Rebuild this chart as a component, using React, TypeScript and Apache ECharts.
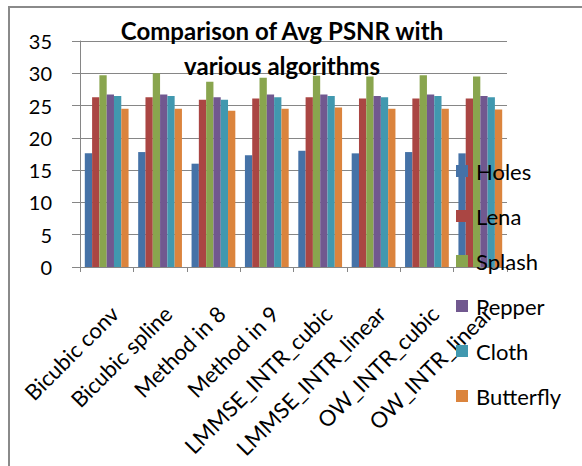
import React, { useEffect, useRef } from "react";
import * as echarts from "echarts";

const categories = [
  "Bicubic conv",
  "Bicubic spline",
  "Method in 8",
  "Method in 9",
  "LMMSE_INTR_cubic",
  "LMMSE_INTR_linear",
  "OW_INTR_cubic",
  "OW_INTR_linear",
];
const holes = [17.6, 17.8, 16.0, 17.3, 18.0, 17.6, 17.8, 17.6];
const lena = [26.3, 26.3, 25.9, 26.1, 26.3, 26.1, 26.1, 26.1];
const splash = [29.7, 30.0, 28.7, 29.3, 29.6, 29.5, 29.7, 29.5];
const pepper = [26.7, 26.7, 26.3, 26.7, 26.7, 26.5, 26.7, 26.5];
const cloth = [26.5, 26.5, 25.9, 26.3, 26.5, 26.3, 26.5, 26.3];
const butterfly = [24.5, 24.5, 24.2, 24.5, 24.7, 24.5, 24.5, 24.4];

const seriesNames = ["Holes", "Lena", "Splash", "Pepper", "Cloth", "Butterfly"];
const seriesData = [holes, lena, splash, pepper, cloth, butterfly];
const colors = ["#4572A7", "#AA4643", "#89A54E", "#71588F", "#4198AF", "#DB843D"];

const FONT = "Lato, 'Open Sans', sans-serif";

export default function App() {
  const ref = useRef<HTMLDivElement>(null);
  useEffect(() => {
    if (!ref.current) return;
    const chart = echarts.init(ref.current, undefined, { renderer: "svg" });
    chart.setOption({
      animation: false,
      backgroundColor: "#ffffff",
      color: colors,
      title: {
        text: "Comparison of Avg PSNR with\nvarious algorithms",
        left: 277,
        top: 8,
        textAlign: "center",
        textStyle: {
          fontFamily: FONT,
          fontSize: 24,
          fontWeight: "bold",
          color: "#000",
          lineHeight: 35,
        },
      },
      legend: {
        orient: "vertical",
        left: 451,
        top: 155,
        itemWidth: 12,
        itemHeight: 12,
        itemGap: 23,
        icon: "rect",
        textStyle: {
          fontFamily: FONT,
          fontSize: 22,
          color: "#000",
          lineHeight: 22,
          padding: [0, 0, 0, 3],
        },
        data: seriesNames,
      },
      grid: { left: 80, right: 75, top: 41, bottom: 199, containLabel: false },
      xAxis: {
        type: "category",
        data: categories,
        axisLine: { lineStyle: { color: "#868686", width: 1 } },
        axisTick: { show: true, length: 5, lineStyle: { color: "#868686" } },
        axisLabel: {
          rotate: 45,
          interval: 0,
          margin: 35,
          verticalAlign: "top",
          fontFamily: FONT,
          fontSize: 22,
          color: "#000",
        },
      },
      yAxis: {
        type: "value",
        min: 0,
        max: 35,
        interval: 5,
        axisLine: { show: true, lineStyle: { color: "#868686", width: 1 } },
        axisTick: { show: true, length: 8, lineStyle: { color: "#868686" } },
        splitLine: { lineStyle: { color: "#868686", width: 1 } },
        axisLabel: {
          margin: 28,
          fontFamily: FONT,
          fontSize: 20,
          color: "#000",
        },
      },
      series: seriesNames.map((n, i) => ({
        name: n,
        type: "bar",
        data: seriesData[i],
        barGap: "0%",
        barCategoryGap: "18%",
      })),
      graphic: [
        {
          type: "polyline",
          shape: { points: [[9, 470], [9, 7], [590, 7]] },
          style: { stroke: "#8a8a8a", lineWidth: 2, fill: "none" },
          z: 10,
        },
      ],
    });
    return () => chart.dispose();
  }, []);
  return (
    <div
      ref={ref}
      style={{ position: "fixed", left: 0, top: 0, width: 582, height: 466 }}
    />
  );
}
